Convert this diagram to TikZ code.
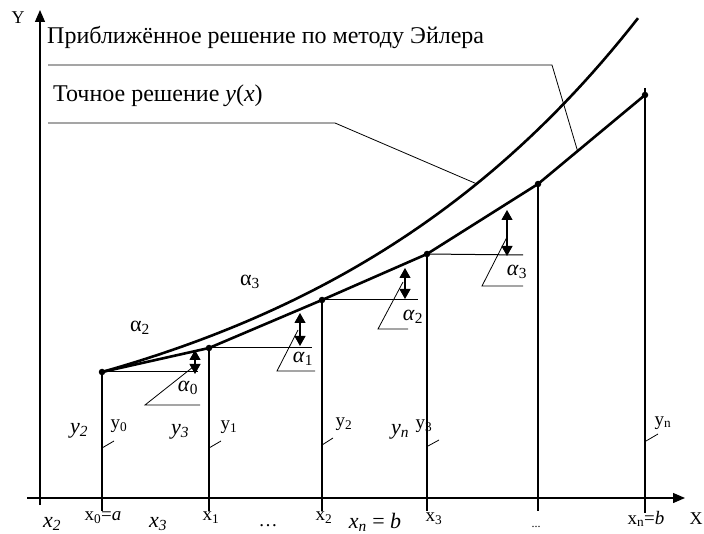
\documentclass[tikz,border=0pt]{standalone}
\usepackage{fontspec}
\setmainfont{Liberation Serif}
\usepackage{tikz}
\usetikzlibrary{arrows.meta,positioning,calc}
\tikzset{
    axis/.style={line width=1.3pt, -{Triangle[length=12pt,width=10pt]}},
    euler/.style={line width=2.6pt, line join=round},
    exact/.style={line width=2.6pt},
    ordinate/.style={line width=1.1pt},
    stepline/.style={line width=1pt},
    leader/.style={line width=0.8pt},
    anglemark/.style={line width=1.1pt, {Triangle[length=10pt,width=11pt]}-{Triangle[length=10pt,width=11pt]}},
    dot/.style={circle, fill=black, inner sep=0pt, minimum size=6.5pt},
    caption/.style={font=\fontsize{24}{26}\selectfont, inner sep=0pt, anchor=west},
    axlabel/.style={font=\fontsize{18}{20}\selectfont, inner sep=0pt},
    anglelabel/.style={font=\fontsize{22}{24}\selectfont, inner sep=0pt},
    smalllabel/.style={font=\fontsize{19}{21}\selectfont, inner sep=0pt},
    italabel/.style={font=\fontsize{22}{24}\selectfont\itshape, inner sep=0pt},
}

\begin{document}
\begin{tikzpicture}[x=1pt, y=-1pt]
    \useasboundingbox (0,0) rectangle (704,534);

    % axes
    \draw[axis] (40,505) -- (40,10);
    \draw[axis] (27,498) -- (685,498);
    \node[axlabel] (Y) at (18,18) {Y};
    \node[axlabel] (X) at (696,519) {X};

    % nodes of the Euler polyline
    \node[dot] (P0) at (102,372) {};
    \node[dot] (P1) at (209,348) {};
    \node[dot] (P2) at (322,300) {};
    \node[dot] (P3) at (427,254) {};
    \node[dot] (P4) at (538,184) {};
    \node[dot] (P5) at (645,95) {};

    % ordinates
    \foreach \p/\x in {P0/102, P1/209, P2/322, P3/427, P4/538}
        \draw[ordinate] (\p.center) -- (\x,511);
    \draw[ordinate] (645,88) -- (645,513);

    % horizontal steps
    \draw[stepline] (P0.center) -- (198,372);
    \draw[stepline] (P1.center) -- (312,348);
    \draw[stepline] (P2.center) -- (418,300);
    \draw[stepline] (P3.center) -- (523,255);

    % approximate and exact solutions
    \draw[euler] (P0.center) -- (P1.center) -- (P2.center) -- (P3.center) -- (P4.center) -- (P5.center);
    \draw[exact] plot[domain=102:638, samples=60] (\x, {372-101*(exp(0.0028*(\x-102))-1)});
    \coordinate (eulerpin) at ($(P4)!0.37!(P5)$);
    \coordinate (exactpin) at (477,184);

    % captions with leaders
    \node[caption] (approx) at (47,38) {Приближённое решение по методу Эйлера};
    \node[caption] (exacttxt) at (53,96) {Точное решение \textit{y}(\textit{x})};
    \draw[leader] (48,65) -- (552,65) -- (eulerpin);
    \draw[leader] (48,123) -- (335,123) -- (exactpin);

    % angle marks
    \draw[anglemark] (195,350) -- (195,374);
    \draw[anglemark] (300,313) -- (300,346);
    \draw[anglemark] (405,268) -- (405,299);
    \draw[anglemark] (507,210) -- (507,256);
    \draw[leader] (193,367) -- (145,405) -- (200,405);
    \draw[leader] (298,330) -- (277,371) -- (315,371);
    \draw[leader] (403,282) -- (378,329) -- (408,329);
    \draw[leader] (507,237) -- (482,286) -- (523,286);
    \node[anglelabel] (a0) at (188,388) {\textit{α}\textsubscript{0}};
    \node[anglelabel] (a1) at (303,359) {\textit{α}\textsubscript{1}};
    \node[anglelabel] (a2) at (413,317) {\textit{α}\textsubscript{2}};
    \node[anglelabel] (a3) at (517,272) {\textit{α}\textsubscript{3}};
    \node[anglelabel] (b2) at (140,328) {α\textsubscript{2}};
    \node[anglelabel] (b3) at (250,282) {α\textsubscript{3}};

    % ordinate labels
    \node[italabel] (iy2) at (79,431) {y\textsubscript{2}};
    \node[smalllabel] (y0) at (119,426) {y\textsubscript{0}};
    \node[italabel] (iy3) at (180,432) {y\textsubscript{3}};
    \node[smalllabel] (y1) at (229,427) {y\textsubscript{1}};
    \node[smalllabel] (y2) at (344,424) {y\textsubscript{2}};
    \node[italabel] (iyn) at (400,432) {y\textsubscript{\itshape n}};
    \node[smalllabel] (y3) at (424,426) {y\textsubscript{3}};
    \node[smalllabel] (yn) at (663,423) {y\textsubscript{n}};
    \draw[leader] (102,448) -- (114,441);
    \draw[leader] (209,448) -- (221,441);
    \draw[leader] (322,445) -- (333,438);
    \draw[leader] (428,446) -- (439,440);
    \draw[leader] (646,441) -- (658,434);

    % abscissa labels
    \node[italabel] (ix2) at (52,524) {x\textsubscript{2}};
    \node[smalllabel] (x0) at (103,518) {x\textsubscript{0}=\textit{a}};
    \node[italabel] (ix3) at (158,524) {x\textsubscript{3}};
    \node[smalllabel] (x1) at (211,518) {x\textsubscript{1}};
    \node[smalllabel] (dots1) at (268,526) {\dots};
    \node[smalllabel] (x2) at (324,518) {x\textsubscript{2}};
    \node[italabel] (ixn) at (375,522) {x\textsubscript{n} \upshape= \itshape b};
    \node[smalllabel] (x3) at (434,519) {x\textsubscript{3}};
    \node[font=\fontsize{12}{14}\selectfont, inner sep=0pt] (dots2) at (536,527) {...};
    \node[smalllabel] (xn) at (646,519) {x\textsubscript{n}=\textit{b}};
\end{tikzpicture}
\end{document}
